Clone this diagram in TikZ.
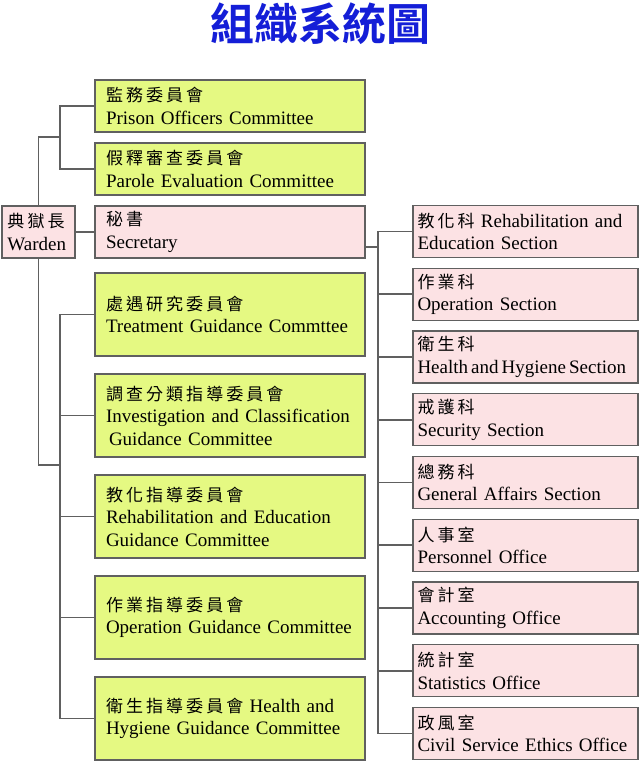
\documentclass[tikz,border=0pt]{standalone}
\usepackage{fontspec}
\setmainfont{Liberation Serif}
\newfontfamily\cjk[LetterSpace=18]{Noto Sans CJK TC}
\newfontfamily\cjkbold{Noto Sans CJK TC Bold}
\usetikzlibrary{positioning}
\definecolor{comgreen}{RGB}{229,249,130}
\definecolor{secpink}{RGB}{252,226,228}
\definecolor{boxline}{RGB}{96,96,96}
\definecolor{titleblue}{RGB}{20,30,215}
\newcommand{\zh}[1]{{\cjk\fontsize{17}{22}\selectfont #1}}

\begin{document}
\begin{tikzpicture}[x=1pt, y=-1pt, font=\fontsize{19}{22.5}\selectfont,
    box/.style={draw=boxline, line width=1.4pt, rectangle, align=left, inner sep=0pt,
                execute at begin node={\hyphenpenalty=10000\hbadness=10000\hfuzz=20pt}},
    leftbox/.style={box, minimum width=270pt, text width=248pt},
    rightbox/.style={box, fill=secpink, minimum width=225pt, text width=216pt, minimum height=52pt},
    conn/.style={draw=boxline, line width=1.6pt}]
    \useasboundingbox (0,0) rectangle (640,761);

    % Title
    \node[text=titleblue] (title) at (320,24) {\cjkbold\fontsize{44}{48}\selectfont 組織系統圖};

    % Warden
    \node[box, fill=secpink, minimum width=73pt, text width=62pt, minimum height=52pt] (warden) at (38.5,232) {\zh{典獄長}\\Warden};

    % Committees above
    \node[leftbox, fill=comgreen, minimum height=52pt] (prison) at (230,106) {\zh{監務委員會}\\Prison Officers Committee};
    \node[leftbox, fill=comgreen, minimum height=52pt] (parole) at (230,169) {\zh{假釋審查委員會}\\Parole Evaluation Committee};

    % Secretary
    \node[leftbox, fill=secpink, minimum height=52pt] (secretary) at (230,232) {\zh{秘書}\\Secretary};

    % Committees below
    \node[leftbox, fill=comgreen, minimum height=83pt] (treatment) at (230,314.5) {\zh{處遇研究委員會}\\Treatment Guidance Commttee};
    \node[leftbox, fill=comgreen, minimum height=83pt] (investigation) at (230,415.5) {\zh{調查分類指導委員會}\\Investigation and Classification\\\hspace*{3pt}Guidance Committee};
    \node[leftbox, fill=comgreen, minimum height=83pt] (rehabguide) at (230,516.5) {\zh{教化指導委員會}\\Rehabilitation and Education\\Guidance Committee};
    \node[leftbox, fill=comgreen, minimum height=83pt] (operguide) at (230,617.5) {\zh{作業指導委員會}\\Operation Guidance Committee};
    \node[leftbox, fill=comgreen, minimum height=83pt] (healthguide) at (230,718.5) {\zh{衛生指導委員會} Health and\\Hygiene Guidance Committee};

    % Sections and offices
    \node[rightbox] (rehabsec) at (525.5,231.5) {\zh{教化科} Rehabilitation and\\Education Section};
    \node[rightbox] (opersec) at (525.5,294.25) {\zh{作業科}\\Operation Section};
    \node[rightbox] (healthsec) at (525.5,357) {\zh{衛生科}\\\mbox{\spaceskip=0.16em Health and Hygiene Section}};
    \node[rightbox] (securitysec) at (525.5,419.75) {\zh{戒護科}\\Security Section};
    \node[rightbox] (generalsec) at (525.5,482.5) {\zh{總務科}\\General Affairs Section};
    \node[rightbox] (personnel) at (525.5,545.25) {\zh{人事室}\\Personnel Office};
    \node[rightbox] (accounting) at (525.5,608) {\zh{會計室}\\Accounting Office};
    \node[rightbox] (statistics) at (525.5,670.75) {\zh{統計室}\\Statistics Office};
    \node[rightbox] (ethics) at (525.5,733.5) {\zh{政風室}\\Civil Service Ethics Office};

    % Bus points
    \coordinate (upbus) at (60,137);
    \coordinate (lowbus) at (60,465);
    \coordinate (rightbus) at (378,247);

    % Connectors
    \draw[conn] (warden.north) |- (upbus);
    \draw[conn] (prison.west) -| (upbus);
    \draw[conn] (parole.west) -| (upbus);
    \draw[conn] (warden.east) -- (secretary.west);
    \draw[conn] (warden.south) |- (lowbus);
    \draw[conn] (treatment.west) -| (lowbus);
    \draw[conn] (investigation.west) -| (lowbus);
    \draw[conn] (rehabguide.west) -| (lowbus);
    \draw[conn] (operguide.west) -| (lowbus);
    \draw[conn] (healthguide.west) -| (lowbus);
    \draw[conn] (secretary.east |- rightbus) -- (rightbus);
    \draw[conn] (rehabsec.west) -| (rightbus);
    \draw[conn] (opersec.west) -| (rightbus);
    \draw[conn] (healthsec.west) -| (rightbus);
    \draw[conn] (securitysec.west) -| (rightbus);
    \draw[conn] (generalsec.west) -| (rightbus);
    \draw[conn] (personnel.west) -| (rightbus);
    \draw[conn] (accounting.west) -| (rightbus);
    \draw[conn] (statistics.west) -| (rightbus);
    \draw[conn] (ethics.west) -| (rightbus);
\end{tikzpicture}
\end{document}
